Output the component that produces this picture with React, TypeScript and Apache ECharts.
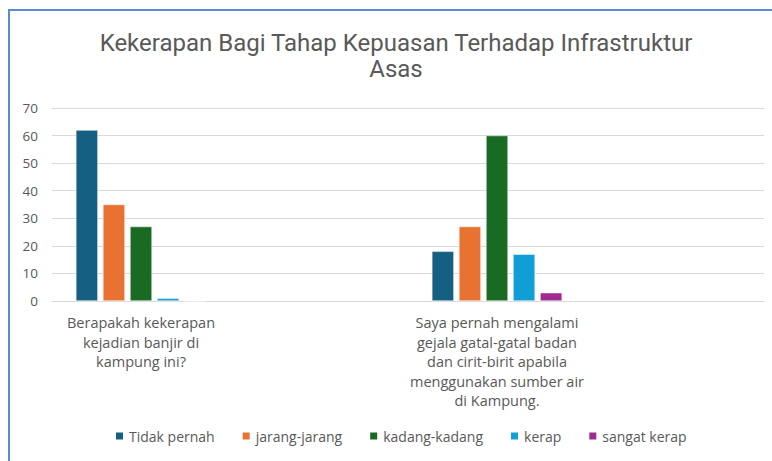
import React, { useEffect, useRef } from "react";
import * as echarts from "echarts";

const categories = [
  "Berapakah kekerapan\nkejadian banjir di\nkampung ini?",
  "",
  "Saya pernah mengalami\ngejala gatal-gatal badan\ndan cirit-birit apabila\nmenggunakan sumber air\ndi Kampung.",
  "",
];
const seriesNames = ["Tidak pernah", "jarang-jarang", "kadang-kadang", "kerap", "sangat kerap"];
const tidakPernah = [62, null, 18, null];
const jarangJarang = [35, null, 27, null];
const kadangKadang = [27, null, 60, null];
const kerap = [1, null, 17, null];
const sangatKerap = [0, null, 3, null];
const colors = ["#156082", "#E97132", "#196B24", "#0F9ED5", "#A02B93"];
const yTicks = { min: 0, max: 70, interval: 10 };

export default function App() {
  const ref = useRef<HTMLDivElement>(null);
  useEffect(() => {
    if (!ref.current) return;
    const chart = echarts.init(ref.current, null, { renderer: "svg" });
    const values = [tidakPernah, jarangJarang, kadangKadang, kerap, sangatKerap];
    const font = "Roboto, 'Open Sans', sans-serif";
    const font2 = "'Open Sans', Roboto, sans-serif";
    chart.setOption({
      animation: false,
      backgroundColor: "#ffffff",
      title: {
        text: "Kekerapan Bagi Tahap Kepuasan Terhadap Infrastruktur\nAsas",
        left: 391,
        top: 25,
        textAlign: "center",
        textStyle: {
          fontFamily: font,
          fontSize: 24,
          fontWeight: "normal",
          color: "#595959",
          lineHeight: 26,
          align: "center",
        },
      },
      legend: {
        bottom: 13,
        left: 109,
        itemWidth: 9,
        itemHeight: 9,
        itemGap: 26,
        icon: "rect",
        textStyle: { fontFamily: font2, fontSize: 14, color: "#595959" },
        data: seriesNames,
      },
      grid: { left: 52, right: 8, top: 108, bottom: 160 },
      xAxis: {
        type: "category",
        data: categories,
        axisLine: { lineStyle: { color: "#d9d9d9", width: 1 } },
        axisTick: { show: false },
        axisLabel: {
          interval: 0,
          margin: 12,
          fontFamily: font2,
          fontSize: 14.5,
          color: "#595959",
          lineHeight: 19.5,
          align: "center",
        },
      },
      yAxis: {
        type: "value",
        min: yTicks.min,
        max: yTicks.max,
        interval: yTicks.interval,
        axisLine: { show: false },
        axisTick: { show: false },
        splitLine: { lineStyle: { color: "#d9d9d9", width: 1 } },
        axisLabel: { fontFamily: font2, fontSize: 13.5, color: "#595959", margin: 14 },
      },
      series: seriesNames.map((name, i) => ({
        name,
        type: "bar",
        data: values[i],
        barWidth: 22,
        barGap: "23%",
        itemStyle: { color: colors[i], borderColor: "#ffffff", borderWidth: 0.5 },
      })),
      graphic: [
        {
          type: "line",
          shape: { x1: 9, y1: 10, x2: 9, y2: 461 },
          style: { stroke: "#5B8BD0", lineWidth: 2 },
        },
        {
          type: "line",
          shape: { x1: 8, y1: 10, x2: 772, y2: 10 },
          style: { stroke: "#5B8BD0", lineWidth: 2 },
        },
      ],
    });
    return () => chart.dispose();
  }, []);
  return (
    <div
      ref={ref}
      style={{ position: "absolute", left: 0, top: 0, width: 772, height: 461 }}
    />
  );
}
